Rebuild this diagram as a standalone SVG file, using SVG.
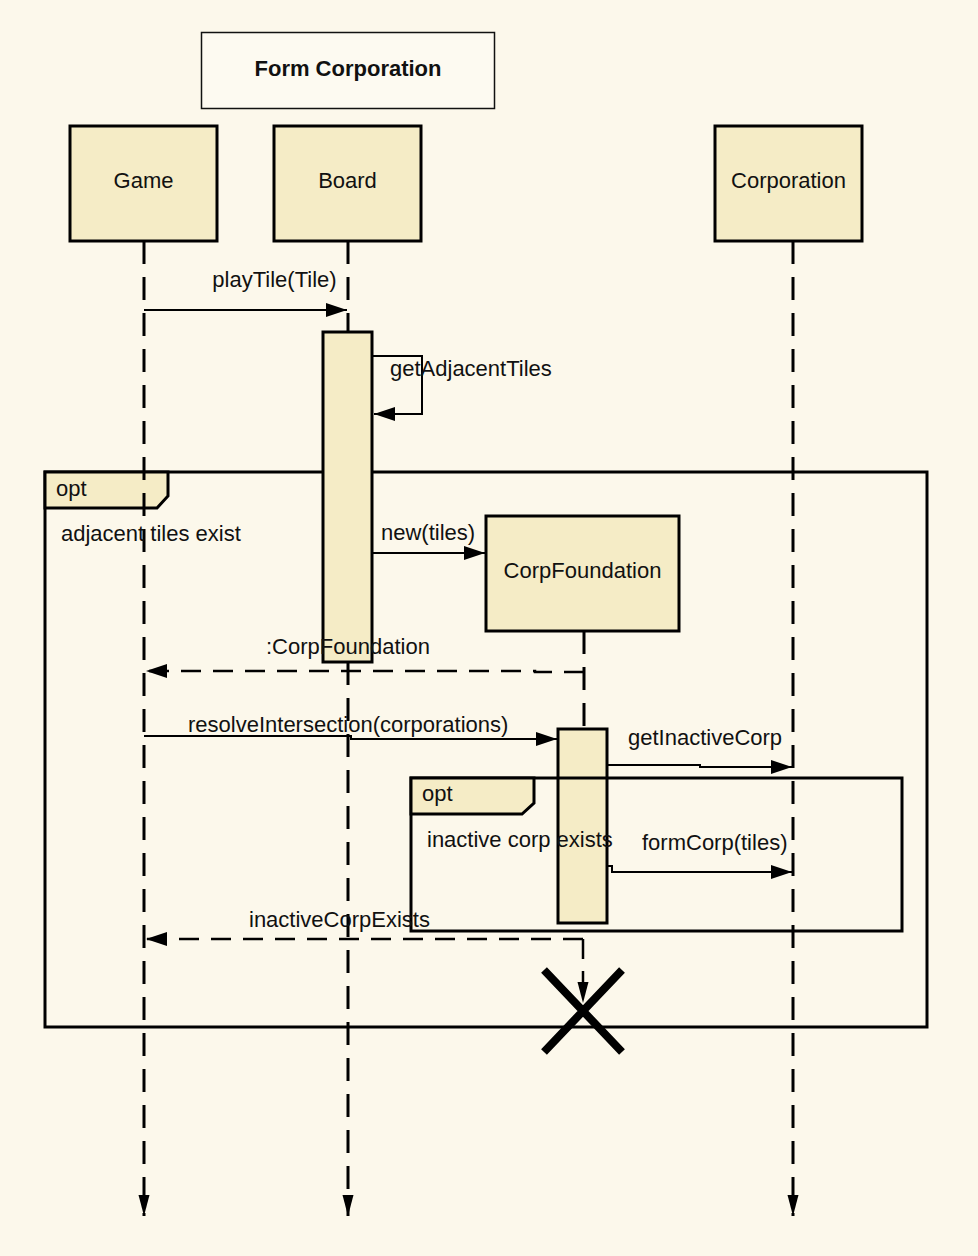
<svg xmlns="http://www.w3.org/2000/svg" width="978" height="1256" viewBox="0 0 978 1256">
  <style>
    text { font-family: "Liberation Sans", Arial, sans-serif; font-size: 22px; fill: #111; }
    .title { font-weight: bold; }
    .mid { text-anchor: middle; }
    .box { fill: #f5ecc6; stroke: #000; stroke-width: 3; }
    .act { fill: #f5ecc6; stroke: #000; stroke-width: 3; }
    .life { fill: none; stroke: #000; stroke-width: 3; stroke-dasharray: 23 13; }
    .msg { fill: none; stroke: #000; stroke-width: 2; }
    .ret { fill: none; stroke: #000; stroke-width: 2.5; stroke-dasharray: 20 12; }
    .frame { fill: none; stroke: #000; stroke-width: 3; }
    .tab { fill: #f5ecc6; stroke: #000; stroke-width: 3; }
  </style>
  <defs>
    <marker id="arrow" markerUnits="userSpaceOnUse" markerWidth="22" markerHeight="16" refX="21" refY="7" orient="auto">
      <path d="M0,0 L21,7 L0,14 Z" fill="#000"/>
    </marker>
    <marker id="endArrow" markerUnits="userSpaceOnUse" markerWidth="22" markerHeight="12" refX="21" refY="5.5" orient="auto">
      <path d="M0,0 L21,5.5 L0,11 Z" fill="#000"/>
    </marker>
  </defs>

  <rect width="978" height="1256" fill="#fcf8eb"/>

  <!-- title -->
  <g id="title">
    <rect x="201.5" y="32.5" width="293" height="76" fill="#fdfaf1" stroke="#111" stroke-width="1.5"/>
    <text class="title mid" x="348" y="76">Form Corporation</text>
  </g>

  <!-- participants -->
  <g id="game">
    <rect class="box" x="70" y="126" width="147" height="115"/>
    <text class="mid" x="143.5" y="188">Game</text>
  </g>
  <g id="board">
    <rect class="box" x="274" y="126" width="147" height="115"/>
    <text class="mid" x="347.5" y="188">Board</text>
  </g>
  <g id="corporation">
    <rect class="box" x="715" y="126" width="147" height="115"/>
    <text class="mid" x="788.5" y="188">Corporation</text>
  </g>

  <!-- outer opt fragment -->
  <g id="opt-adjacent">
    <rect class="frame" x="45" y="472" width="882" height="555"/>
    <path class="tab" d="M45,472 H168 V496 L157,508 H45 Z"/>
  </g>

  <!-- activations -->
  <g id="board-activation">
    <rect class="act" x="323" y="332" width="49" height="330"/>
  </g>
  <g id="corpfoundation">
    <rect class="box" x="486" y="516" width="193" height="115"/>
    <text class="mid" x="582.5" y="578">CorpFoundation</text>
  </g>
  <g id="corpfoundation-activation">
    <rect class="act" x="558" y="729" width="49" height="194"/>
  </g>

  <!-- inner opt fragment -->
  <g id="opt-inactive">
    <rect class="frame" x="411" y="778" width="491" height="153"/>
    <path class="tab" d="M411,778 H534 V803 L522,814 H411 Z"/>
  </g>

  <!-- destruction mark -->
  <g id="destroy">
    <path d="M544,970 L622,1052 M622,970 L544,1052" stroke="#000" stroke-width="8" fill="none"/>
  </g>

  <!-- lifelines and messages -->
  <g id="connectors">
    <line class="life" x1="144" y1="241" x2="144" y2="1216" marker-end="url(#endArrow)"/>
    <line class="life" x1="348" y1="241" x2="348" y2="332"/>
    <line class="life" x1="348" y1="662" x2="348" y2="1216" marker-end="url(#endArrow)"/>
    <line class="life" x1="793" y1="241" x2="793" y2="1216" marker-end="url(#endArrow)"/>
    <line class="life" x1="584" y1="631" x2="584" y2="729"/>

    <!-- playTile(Tile) -->
    <line class="msg" x1="144" y1="310" x2="347" y2="310" marker-end="url(#arrow)"/>
    <!-- getAdjacentTiles self call -->
    <polyline class="msg" points="372,356 422,356 422,414 374,414" marker-end="url(#arrow)"/>
    <!-- new(tiles) -->
    <line class="msg" x1="372" y1="553" x2="485" y2="553" marker-end="url(#arrow)"/>
    <!-- :CorpFoundation return -->
    <polyline class="ret" points="584,672 535,672 535,671 146,671" marker-end="url(#arrow)"/>
    <!-- resolveIntersection(corporations) -->
    <polyline class="msg" points="144,736 351,736 351,739 557,739" marker-end="url(#arrow)"/>
    <!-- getInactiveCorp -->
    <polyline class="msg" points="607,765 700,765 700,767 792,767" marker-end="url(#arrow)"/>
    <!-- formCorp(tiles) -->
    <polyline class="msg" points="607,866 612,866 612,872 792,872" marker-end="url(#arrow)"/>
    <!-- inactiveCorpExists return -->
    <line class="ret" x1="583" y1="939" x2="146" y2="939" marker-end="url(#arrow)"/>
    <line class="ret" x1="583" y1="939" x2="583" y2="1003" stroke-dasharray="15 8" marker-end="url(#endArrow)"/>
  </g>

  <!-- labels -->
  <g id="labels">
    <text class="mid" x="274.5" y="287">playTile(Tile)</text>
    <text x="390" y="376">getAdjacentTiles</text>
    <text x="56" y="496">opt</text>
    <text x="61" y="541">adjacent tiles exist</text>
    <text x="381" y="540">new(tiles)</text>
    <text x="266" y="654">:CorpFoundation</text>
    <text x="188" y="732">resolveIntersection(corporations)</text>
    <text x="628" y="745">getInactiveCorp</text>
    <text x="422" y="801">opt</text>
    <text x="427" y="847">inactive corp exists</text>
    <text x="642" y="850">formCorp(tiles)</text>
    <text x="249" y="927">inactiveCorpExists</text>
  </g>
</svg>
